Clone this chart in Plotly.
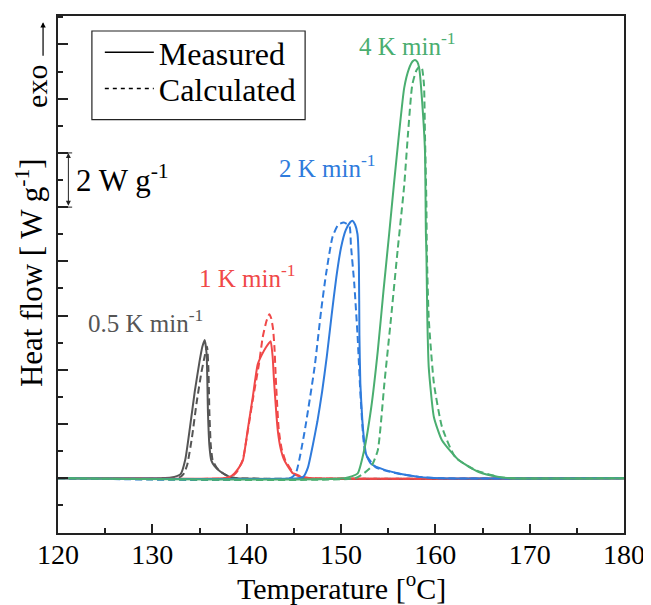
import plotly.graph_objects as go

# ---------------- data ----------------
# 0.5 K/min
t05_meas = [120, 127, 131, 132.0, 132.6, 133.0, 133.5, 134.0, 134.5, 135.0, 135.3, 135.55, 135.75, 135.9, 136.05, 136.25, 136.6, 137.2, 138.2, 139.0, 180]
q05_meas = [0, 0, 0.01, 0.03, 0.08, 0.15, 0.7, 1.9, 3.2, 4.3, 4.85, 5.1, 4.6, 2.4, 1.2, 0.66, 0.45, 0.25, 0.05, 0.0, 0]
t05_calc = [120, 132.8, 133.3, 133.7, 134.2, 134.7, 135.2, 135.55, 135.8, 135.95, 136.05, 136.2, 136.4, 136.8, 137.4, 138.3, 139.0, 180]
q05_calc = [0, 0.02, 0.15, 0.5, 1.5, 2.8, 3.9, 4.5, 4.85, 4.0, 2.4, 1.2, 0.66, 0.4, 0.2, 0.04, 0, 0]

# 1 K/min
t1_meas = [120, 137.5, 138.2, 138.7, 139.2, 139.6, 140.1, 140.65, 141.17, 141.6, 142.05, 142.4, 142.55, 142.75, 142.9, 143.3, 143.6, 144.0, 144.9, 145.8, 147, 180]
q1_meas = [0, 0, 0.05, 0.18, 0.4, 0.66, 1.76, 3.0, 4.2, 4.55, 4.83, 5.0, 5.05, 4.5, 3.6, 1.76, 1.1, 0.66, 0.18, 0.04, 0, 0]
t1_calc = [120, 137.8, 138.5, 139.0, 139.6, 140.1, 140.65, 141.3, 141.7, 142.1, 142.4, 142.6, 142.8, 142.95, 143.1, 143.4, 143.7, 144.1, 145.0, 146.0, 147, 180]
q1_calc = [0, 0, 0.08, 0.25, 0.7, 1.7, 2.9, 4.2, 5.2, 5.8, 6.05, 5.9, 5.5, 4.8, 3.6, 1.8, 1.1, 0.66, 0.18, 0.04, 0, 0]

# 2 K/min
t2_meas = [120, 145.5, 146.0, 146.5, 147.0, 147.5, 148.0, 148.5, 149.0, 149.5, 150.0, 150.5, 151.0, 151.2, 151.5, 151.75, 151.9, 151.95, 152.05, 152.25, 152.45, 152.65, 153.15, 154.7, 156.5, 158.3, 160.5, 180]
q2_meas = [0, 0.0, 0.05, 0.4, 1.2, 2.1, 3.2, 4.5, 6.0, 7.4, 8.5, 9.15, 9.45, 9.5, 9.35, 9.0, 7.8, 5.3, 3.5, 2.2, 1.4, 0.9, 0.54, 0.3, 0.15, 0.05, 0, 0]
t2_calc = [120, 144.6, 145.2, 146.1, 147.2, 147.9, 148.4, 149.1, 149.7, 150.3, 150.9, 151.05, 151.4, 151.75, 152.1, 152.6, 153.7, 154.7, 156.5, 158.3, 160.5, 180]
q2_calc = [0, 0, 0.17, 1.64, 4.1, 6.2, 7.5, 8.9, 9.35, 9.43, 9.3, 8.6, 7.2, 5.3, 2.87, 0.9, 0.4, 0.28, 0.14, 0.05, 0, 0]

# 4 K/min
t4_meas = [120, 150.5, 151.75, 152.45, 153.2, 153.9, 154.5, 155.1, 155.6, 156.15, 156.7, 157.2, 157.6, 157.85, 158.1, 158.3, 158.6, 158.9, 159.0, 159.05, 159.15, 159.3, 159.85, 160.7, 162.5, 164.6, 166.7, 168, 180]
q4_meas = [0, 0.01, 0.17, 1.03, 2.6, 4.7, 6.9, 9.0, 10.8, 12.7, 14.4, 15.1, 15.38, 15.43, 15.35, 15.1, 13.9, 12.1, 9.0, 8.4, 5.9, 4.1, 2.25, 1.4, 0.66, 0.23, 0.05, 0, 0]
t4_calc = [120, 151.5, 152.3, 153.2, 153.9, 154.6, 155.3, 156.0, 156.7, 157.1, 157.55, 158.0, 158.4, 158.6, 158.8, 158.9, 159.05, 159.1, 159.3, 159.85, 160.7, 162.1, 164.25, 166.7, 168, 180]
q4_calc = [0, 0, 0.15, 0.42, 1.03, 3.5, 5.9, 8.4, 10.8, 12.7, 14.5, 15.05, 15.2, 15.1, 14.5, 12.7, 10.2, 8.4, 5.9, 3.5, 1.9, 0.78, 0.3, 0.05, 0, 0]

rate_labels = ["0.5 K min<sup>-1</sup>", "1 K min<sup>-1</sup>", "2 K min<sup>-1</sup>", "4 K min<sup>-1</sup>"]
label_x = [129.3, 140.1, 148.6, 157.0]
label_y = [5.8, 7.45, 11.5, 16.0]
colors = ["#555555", "#f04848", "#2f7bdc", "#4aae70"]

x_ticks = [120, 130, 140, 150, 160, 170, 180]

# ---------------- figure ----------------
FONT = "Liberation Serif, Times New Roman, serif"
fig = go.Figure()

series = [
    (t05_meas, q05_meas, t05_calc, q05_calc),
    (t1_meas, q1_meas, t1_calc, q1_calc),
    (t2_meas, q2_meas, t2_calc, q2_calc),
    (t4_meas, q4_meas, t4_calc, q4_calc),
]
for (tm, qm, tc, qc), col in zip(series, colors):
    fig.add_trace(go.Scatter(x=tc, y=qc, mode="lines", showlegend=False,
                             line=dict(color=col, width=2, dash="7px,4px",
                                       shape="spline", smoothing=0.5)))
    fig.add_trace(go.Scatter(x=tm, y=qm, mode="lines", showlegend=False,
                             line=dict(color=col, width=2, shape="spline", smoothing=0.5)))

# legend entries (two legends so the row spacing matches; frame drawn as a shape)
fig.add_trace(go.Scatter(x=[None], y=[None], mode="lines", name="Measured", legend="legend",
                         line=dict(color="black", width=1.5)))
fig.add_trace(go.Scatter(x=[None], y=[None], mode="lines", name="Calculated", legend="legend2",
                         line=dict(color="black", width=1.5, dash="4px,4px")))
fig.add_shape(type="rect", xref="paper", yref="paper", x0=0.0599, x1=0.4366, y0=0.7996, y1=0.971,
              line=dict(color="#222", width=1.2), fillcolor="rgba(0,0,0,0)")

for txt, lx, ly, col in zip(rate_labels, label_x, label_y, colors):
    fig.add_annotation(x=lx, y=ly, xref="x", yref="y", text=txt, showarrow=False,
                       xanchor="center", yanchor="middle",
                       font=dict(family=FONT, size=25, color=col))

# scale bar 2 W g-1
fig.add_annotation(x=121.1, y=12, ax=121.1, ay=10, xref="x", yref="y", axref="x", ayref="y",
                   text="", showarrow=True, arrowside="end+start", arrowhead=2,
                   arrowsize=1, arrowwidth=1, arrowcolor="#222")
for yy in (10, 12):
    fig.add_shape(type="line", x0=120.5, x1=121.5, y0=yy, y1=yy, xref="x", yref="y",
                  line=dict(color="#222", width=1))
fig.add_annotation(x=126.8, y=11.05, xref="x", yref="y", text="2 W g<sup>-1</sup>",
                   showarrow=False, xanchor="center", yanchor="middle",
                   font=dict(family=FONT, size=31, color="black"))

# axis titles
fig.add_annotation(x=-0.0493, y=0.503, xref="paper", yref="paper", textangle=-90,
                   xanchor="center", yanchor="middle",
                   text="Heat flow [ W g<sup>-1</sup>]", showarrow=False,
                   font=dict(family=FONT, size=31, color="black"))
fig.add_annotation(x=-0.037, y=0.863, xref="paper", yref="paper", textangle=-90,
                   xanchor="center", yanchor="middle",
                   text="exo", showarrow=False,
                   font=dict(family=FONT, size=30, color="black"))
fig.add_annotation(x=-0.0264, y=0.988, xref="paper", yref="paper", ax=0, ay=35,
                   text="", showarrow=True, arrowhead=2, arrowsize=0.9,
                   arrowwidth=1.2, arrowcolor="black")
fig.add_annotation(x=0.5, y=-0.1021, xref="paper", yref="paper",
                   xanchor="center", yanchor="middle",
                   text="Temperature [<sup>o</sup>C]", showarrow=False,
                   font=dict(family=FONT, size=30, color="black"))

leg_common = dict(xanchor="left", yanchor="middle", borderwidth=0, bgcolor="rgba(0,0,0,0)",
                  font=dict(family=FONT, size=32, color="black"), itemwidth=49)
fig.update_layout(
    width=643, height=597,
    margin=dict(l=50, r=25, t=6, b=72),
    paper_bgcolor="white", plot_bgcolor="white",
    font=dict(family=FONT, color="black"),
    legend=dict(x=0.0739, y=0.9295, **leg_common),
    legend2=dict(x=0.0739, y=0.8595, **leg_common),
)
fig.update_xaxes(range=[120, 180], tickvals=x_ticks, ticks="inside", ticklen=9, tickwidth=2,
                 tickcolor="#222", showline=True, linecolor="#222", linewidth=2, mirror=True,
                 showgrid=False, zeroline=False, ticklabelstandoff=-5,
                 tickfont=dict(family=FONT, size=28, color="black"),
                 minor=dict(dtick=5, ticks="inside", ticklen=5, tickwidth=2, tickcolor="#222"))
fig.update_yaxes(range=[-2.02, 17.05], dtick=2, tick0=0, ticks="inside", ticklen=10, tickwidth=2,
                 tickcolor="#222", showline=True, linecolor="#222", linewidth=2, mirror=True,
                 showgrid=False, zeroline=False, showticklabels=False,
                 minor=dict(dtick=1, ticks="inside", ticklen=5, tickwidth=2, tickcolor="#222"))

fig.write_html("out.html")
